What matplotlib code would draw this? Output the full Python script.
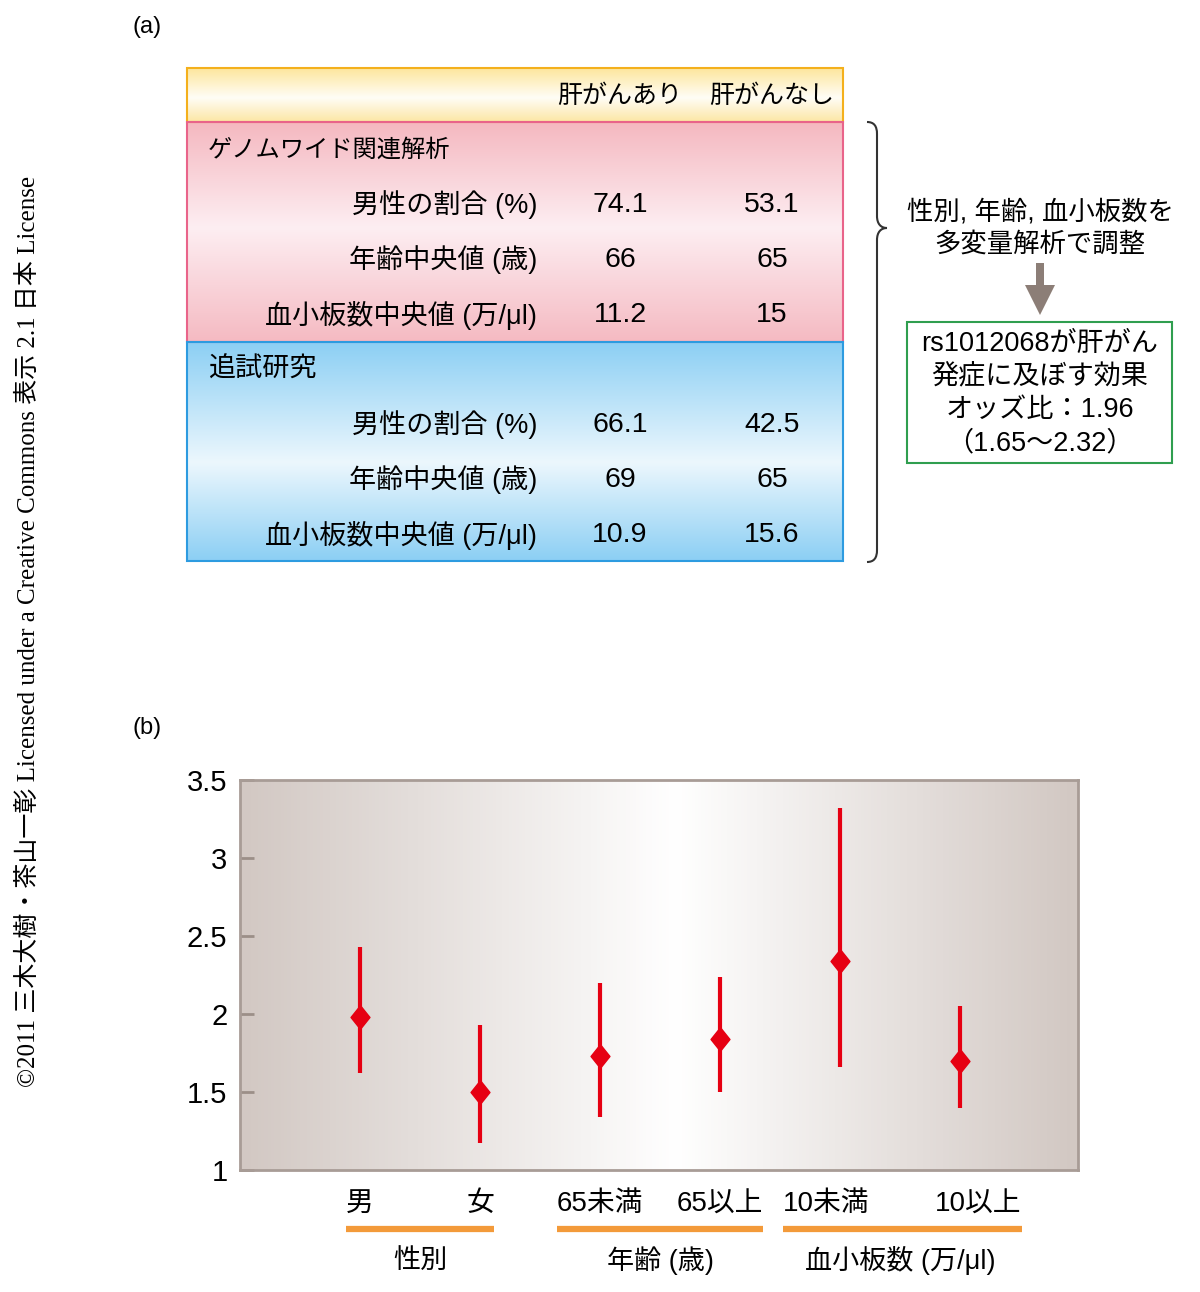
import numpy as np
import matplotlib
matplotlib.use("Agg")
import matplotlib.pyplot as plt
from matplotlib.colors import LinearSegmentedColormap
from matplotlib.path import Path
from matplotlib.patches import PathPatch, Rectangle, FancyArrow
from matplotlib.transforms import blended_transform_factory, offset_copy

SANS = ["Liberation Sans", "Noto Sans CJK JP"]
SERIF = ["Liberation Serif", "Noto Sans CJK JP"]
plt.rcParams["font.family"] = SANS

# ---- (a) table data ----
col_labels = ["肝がんあり", "肝がんなし"]
row_labels = ["男性の割合 (%)", "年齢中央値 (歳)", "血小板数中央値 (万/μl)"]
gwas_title = "ゲノムワイド関連解析"
gwas_case = ["74.1", "66", "11.2"]
gwas_ctrl = ["53.1", "65", "15"]
rep_title = "追試研究"
rep_case = ["66.1", "69", "10.9"]
rep_ctrl = ["42.5", "65", "15.6"]
adjust_text = ["性別, 年齢, 血小板数を", "多変量解析で調整"]
result_text = ["rs1012068が肝がん", "発症に及ぼす効果", "オッズ比：1.96", "（1.65〜2.32）"]

# ---- (b) odds ratios ----
categories = ["男", "女", "65未満", "65以上", "10未満", "10以上"]
odds = [1.98, 1.50, 1.73, 1.84, 2.34, 1.70]
ci_low = [1.62, 1.17, 1.34, 1.50, 1.66, 1.40]
ci_high = [2.43, 1.93, 2.20, 2.24, 3.32, 2.05]
groups = ["性別", "年齢 (歳)", "血小板数 (万/μl)"]
group_members = [(0, 1), (2, 3), (4, 5)]
yticks = [1, 1.5, 2, 2.5, 3, 3.5]

license_text = ("©2011 三木大樹・茶山一彰 Licensed under a Creative Commons "
                "表示 2.1 日本 License")

W, H = 1200, 1292
fig = plt.figure(figsize=(W / 100, H / 100), dpi=100)
ov = fig.add_axes([0, 0, 1, 1])
ov.axis("off")


def vgrad(x0, x1, y0, y1, stops, edge):
    cmap = LinearSegmentedColormap.from_list("g", stops)
    grad = np.linspace(0, 1, 256).reshape(-1, 1)
    ov.imshow(grad, cmap=cmap, extent=(x0, x1, y1, y0), aspect="auto",
              zorder=1, interpolation="bilinear")
    ov.add_patch(Rectangle((x0, y0), x1 - x0, y1 - y0, fill=False,
                           ec=edge, lw=1.5, zorder=3))


# table blocks
tl, tr = 187, 843
vgrad(tl, tr, 68, 122, [(0, "#fde69c"), (0.55, "#fffdf6"), (1, "#fce6a4")], "#f4b01c")
vgrad(tl, tr, 122, 342, [(0, "#f5b8c0"), (0.48, "#fdeef2"), (1, "#f5bac2")], "#e9648a")
vgrad(tl, tr, 342, 561, [(0, "#8ccff4"), (0.55, "#ecf7fd"), (1, "#8ccff4")], "#2d9be0")

col_x = [620, 772]
for cx, lab in zip(col_x, col_labels):
    ov.text(cx, 96, lab, fontsize=18, ha="center", va="center", zorder=4)

for title, tsize, ty, case, ctrl in [(gwas_title, 17.5, 150, gwas_case, gwas_ctrl),
                                     (rep_title, 19.5, 370, rep_case, rep_ctrl)]:
    ov.text(208, ty, title, fontsize=tsize, ha="left", va="center", zorder=4)
    for i, lab in enumerate(row_labels):
        ry = ty + 55 * (i + 1)
        ov.text(537, ry, lab, fontsize=19.5, ha="right", va="center", zorder=4)
        ov.text(col_x[0], ry, case[i], fontsize=20.5, ha="center", va="center", zorder=4)
        ov.text(col_x[1], ry, ctrl[i], fontsize=20.5, ha="center", va="center", zorder=4)

# brace
verts = [(867, 122), (874, 122), (877, 126), (877, 134),
         (877, 216),
         (877, 224), (881, 228), (887, 228),
         (881, 228), (877, 232), (877, 240),
         (877, 550),
         (877, 558), (874, 562), (867, 562)]
codes = [Path.MOVETO, Path.CURVE4, Path.CURVE4, Path.CURVE4,
         Path.LINETO,
         Path.CURVE4, Path.CURVE4, Path.CURVE4,
         Path.CURVE4, Path.CURVE4, Path.CURVE4,
         Path.LINETO,
         Path.CURVE4, Path.CURVE4, Path.CURVE4]
ov.add_patch(PathPatch(Path(verts, codes), fill=False, ec="#333333", lw=1.5))

for i, line in enumerate(adjust_text):
    ov.text(1040, 212 + 32 * i, line, fontsize=19, ha="center", va="center")

ov.add_patch(FancyArrow(1040, 263, 0, 52, width=8, head_width=30, head_length=30,
                        length_includes_head=True, color="#8c7e77", lw=0))
ov.add_patch(Rectangle((907, 322), 265, 141, fill=False, ec="#2f9e4f", lw=1.5))
for i, line in enumerate(result_text):
    ov.text(1040, 344 + 33 * i, line, fontsize=19.5, ha="center", va="center")

ov.text(132, 27, "(a)", fontsize=17, ha="left", va="center")
ov.text(132, 728, "(b)", fontsize=17, ha="left", va="center")
ov.text(28, 631, license_text, rotation=90, fontsize=18, ha="center",
        va="center", family=SERIF)

ov.set_xlim(0, W)
ov.set_ylim(H, 0)

# ---- (b) chart ----
ax = fig.add_axes([240 / W, 1 - 1170 / H, 838 / W, 390 / H])
xs = np.arange(1, len(categories) + 1)
hcmap = LinearSegmentedColormap.from_list(
    "h", [(0, "#d2c8c3"), (0.52, "#ffffff"), (1, "#d2c8c3")])
ax.imshow(np.linspace(0, 1, 256).reshape(1, -1), cmap=hcmap, aspect="auto",
          extent=(0, 6.98, 1, 3.5), zorder=0, interpolation="bilinear")

red = "#e60012"
ax.vlines(xs, ci_low, ci_high, color=red, lw=3, zorder=2)
diamond = Path([(0, 1), (0.8, 0), (0, -1), (-0.8, 0), (0, 1)])
ax.plot(xs, odds, ls="none", marker=diamond, ms=17, color=red, zorder=3)

ax.set_xlim(0, 6.98)
ax.set_ylim(1, 3.5)
ax.set_xticks([])
ax.set_yticks(yticks)
ax.set_yticklabels([f"{v:g}" for v in yticks])
ax.tick_params(axis="y", direction="in", length=10, width=2, color="#9c8f88",
               labelsize=21, pad=9)
for sp in ax.spines.values():
    sp.set_color("#a89c96")
    sp.set_linewidth(2)

trans = blended_transform_factory(ax.transData, ax.transAxes)
label_dx = [0, 0, 0, 0, -14, 18]
cat_txt = []
for x, lab, dx in zip(xs, categories, label_dx):
    t = ax.text(x, -0.088, lab, fontsize=20, ha="center", va="center",
                transform=offset_copy(trans, fig, x=dx, y=0, units="dots"))
    cat_txt.append(t)
for (a, b), g in zip(group_members, groups):
    ax.text((xs[a] + xs[b]) / 2, -0.232, g, fontsize=19.5, ha="center",
            va="center", transform=trans)

fig.canvas.draw()
renderer = fig.canvas.get_renderer()
inv = ov.transData.inverted()
for a, b in group_members:
    left = cat_txt[a].get_window_extent(renderer).x0
    right = cat_txt[b].get_window_extent(renderer).x1
    (xl, _), (xr, _) = inv.transform([(left, 0), (right, 0)])
    ov.plot([xl, xr], [1229, 1229], color="#f39a3a", lw=4.5,
            solid_capstyle="butt")
ov.set_xlim(0, W)
ov.set_ylim(H, 0)

fig.savefig("out.png", dpi=100)
